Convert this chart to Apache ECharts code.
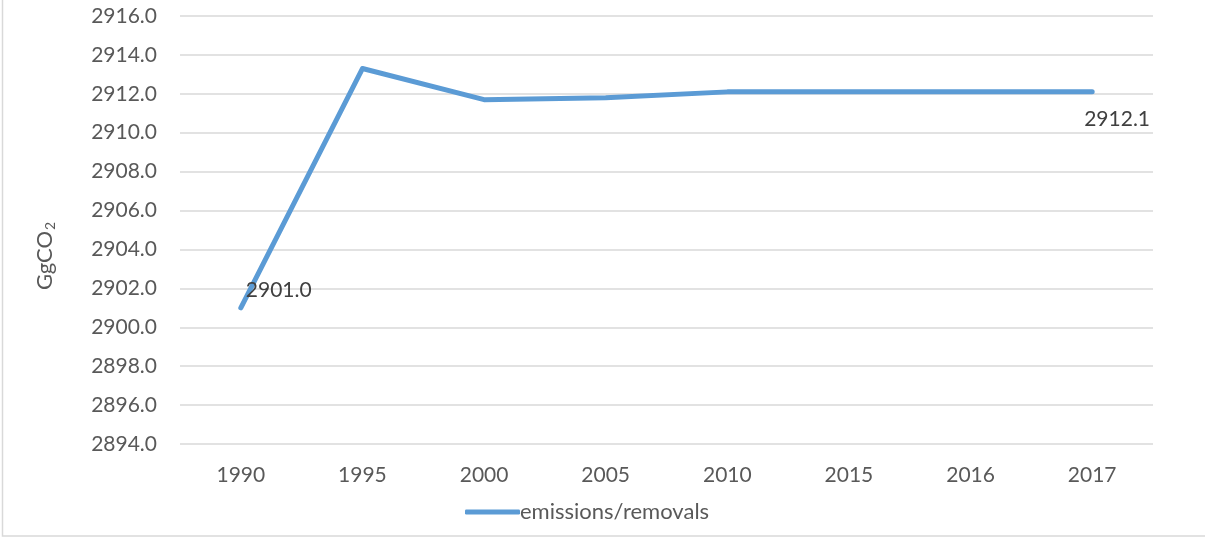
<!DOCTYPE html>
<html>
<head>
<meta charset="utf-8">
<style>
  html, body { margin: 0; padding: 0; background: #ffffff; }
  #chart { width: 1205px; height: 539px; }
</style>
<script src="https://cdn.jsdelivr.net/npm/echarts@6/dist/echarts.min.js"></script>
</head>
<body>
<div id="chart"></div>
<script>
// Inventory years and net CO2 emissions/removals (Gg CO2)
const years = ['1990', '1995', '2000', '2005', '2010', '2015', '2016', '2017'];
const emissions = [2901.0, 2913.3, 2911.7, 2911.8, 2912.1, 2912.1, 2912.1, 2912.1];
const seriesName = 'emissions/removals';
const yMin = 2894, yMax = 2916, yStep = 2;

const FONT = 'Lato, "Open Sans", sans-serif';
const lastIdx = emissions.length - 1;

const chart = echarts.init(document.getElementById('chart'), null, { renderer: 'canvas' });

chart.setOption({
  animation: false,
  backgroundColor: '#ffffff',
  grid: { left: 180, right: 52, top: 16, bottom: 95, containLabel: false },
  legend: {
    left: 460,
    top: 496,
    itemWidth: 55,
    itemHeight: 5,
    icon: 'roundRect',
    itemGap: 10,
    textStyle: { fontFamily: FONT, fontSize: 22, color: '#595959', padding: [0, 0, 0, -5] },
    data: [seriesName]
  },
  xAxis: {
    type: 'category',
    data: years,
    boundaryGap: true,
    axisLine: { show: false },
    axisTick: { show: false },
    axisLabel: { fontFamily: FONT, fontSize: 21, color: '#595959', margin: 21 }
  },
  yAxis: {
    type: 'value',
    min: yMin,
    max: yMax,
    interval: yStep,
    axisLine: { show: false },
    axisTick: { show: false },
    splitLine: { lineStyle: { color: '#d9d9d9', width: 1.5 } },
    axisLabel: {
      fontFamily: FONT, fontSize: 21, color: '#595959', margin: 23,
      formatter: v => v.toFixed(1)
    }
  },
  series: [{
    name: seriesName,
    type: 'line',
    data: emissions.map((v, i) => {
      const item = { value: v };
      if (i === 0) {
        item.label = { show: true, position: 'right', distance: 5, offset: [0, -18] };
      } else if (i === lastIdx) {
        item.label = { show: true, position: 'right', distance: 5, offset: [-13, 27] };
      }
      return item;
    }),
    showSymbol: true,
    symbol: 'circle',
    symbolSize: 0,
    lineStyle: { color: '#5b9bd5', width: 5, cap: 'round', join: 'round' },
    itemStyle: { color: '#5b9bd5' },
    label: {
      show: false,
      fontFamily: FONT, fontSize: 21, color: '#404040',
      formatter: p => p.value.toFixed(1)
    }
  }],
  graphic: [
    {
      type: 'rect',
      silent: true,
      shape: { x: 2.5, y: -5, width: 1220, height: 541 },
      style: { fill: 'none', stroke: '#d9d9d9', lineWidth: 1.5 }
    },
    {
      type: 'text',
      silent: true,
      x: 45,
      y: 256,
      rotation: Math.PI / 2,
      style: {
        text: '{m|GgCO}{s|2}',
        align: 'center',
        verticalAlign: 'middle',
        rich: {
          m: { fontFamily: FONT, fontSize: 22, fill: '#595959' },
          s: { fontFamily: FONT, fontSize: 14, fill: '#595959', padding: [11, 0, 0, 1] }
        }
      }
    }
  ]
});
</script>
</body>
</html>
